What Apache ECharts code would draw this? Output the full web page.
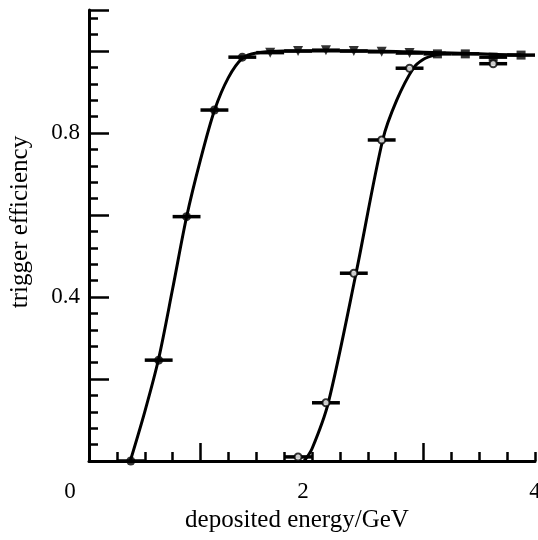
<!DOCTYPE html>
<html><head><meta charset="utf-8">
<script src="https://cdn.jsdelivr.net/npm/echarts@6/dist/echarts.min.js"></script>
<style>html,body{margin:0;padding:0;background:#fff}#c{width:538px;height:540px}</style>
</head><body><div id="c"></div>
<script>
// ---- data ----
const leftX = [0.375,0.625,0.875,1.125,1.375,1.625,1.875,2.125,2.375,2.625,2.875,3.125,3.375,3.625,3.875];
const leftY = [0.0,0.246,0.596,0.856,0.985,0.996,1.0,1.002,1.0,0.998,0.995,0.993,0.993,0.985,0.99];
const rightX = [1.875,2.125,2.375,2.625,2.875,3.625];
const rightY = [0.01,0.142,0.458,0.783,0.958,0.969];
const binHalfWidth = 0.125;
const leftCurveX = [0.37,0.5,0.625,0.75,0.875,1.0,1.125,1.25,1.375,1.5,1.75,2.0,2.5,3.0,3.5,3.875];
const leftCurveY = [0.0,0.12,0.25,0.42,0.595,0.735,0.855,0.935,0.982,0.995,1.0,1.0,1.0,0.997,0.993,0.99];
const rightCurveX = [1.93,2.0,2.146,2.395,2.634,2.76,2.909,3.0,3.1,3.2];
const rightCurveY = [0.0,0.03,0.142,0.458,0.783,0.88,0.958,0.98,0.99,0.995];
const xLabelValues = [0,2,4];
const xLongTicks = [1,3];
const yLabelValues = [0.4,0.8];

const zip = (a,b) => a.map((v,i)=>[v,b[i]]);
const FONT = 'Liberation Serif';
const pts = zip(leftX,leftY);

function errBar(params, api){
  const x = api.value(0), y = api.value(1);
  const p1 = api.coord([x-binHalfWidth,y]), p2 = api.coord([x+binHalfWidth,y]);
  return {type:'line', shape:{x1:p1[0],y1:p1[1],x2:p2[0],y2:p2[1]}, style:{stroke:'#000',lineWidth:3.5}};
}

const chart = echarts.init(document.getElementById('c'), null, {renderer:'canvas'});
chart.setOption({
  animation:false,
  backgroundColor:'#fff',
  grid:{left:89,right:3,top:10,bottom:79,containLabel:false,outerBoundsMode:'none'},
  xAxis:[{
    type:'value',min:0,max:4,interval:2,position:'bottom',
    axisLine:{show:true,lineStyle:{color:'#000',width:3}},
    axisTick:{show:true,inside:true,length:18,customValues:xLongTicks,lineStyle:{color:'#000',width:2.5}},
    axisLabel:{show:true,margin:19,customValues:xLabelValues,color:'#000',fontFamily:FONT,fontSize:23,
      formatter:function(v){ if(v===0) return '{a|0}'; if(v===2) return '{b|2}'; return String(v);},
      rich:{a:{fontFamily:FONT,fontSize:23,color:'#000',padding:[0,38,0,0]},b:{fontFamily:FONT,fontSize:23,color:'#000',padding:[0,18,0,0]}}},
    splitLine:{show:false}
  },{
    type:'value',min:0,max:4,interval:0.25,position:'bottom',
    axisLine:{show:false},
    axisTick:{show:true,inside:true,length:9,lineStyle:{color:'#000',width:2.5}},
    axisLabel:{show:false},splitLine:{show:false}
  }],
  yAxis:[{
    type:'value',min:0,max:1.1,interval:0.2,position:'left',
    axisLine:{show:true,lineStyle:{color:'#000',width:3}},
    axisTick:{show:true,inside:true,length:20,lineStyle:{color:'#000',width:2.5}},
    axisLabel:{show:true,margin:9,customValues:yLabelValues,color:'#000',fontFamily:FONT,fontSize:23,
      formatter:function(v){return v.toFixed(1);}},
    splitLine:{show:false}
  },{
    type:'value',min:0,max:1.1,interval:0.04,position:'left',
    axisLine:{show:false},
    axisTick:{show:true,inside:true,length:9,lineStyle:{color:'#000',width:2.5}},
    axisLabel:{show:false},splitLine:{show:false}
  }],
  graphic:[
    {type:'text',x:297,y:520,style:{text:'deposited energy/GeV',font:'25px "Liberation Serif"',fill:'#000',align:'center',verticalAlign:'middle'}},
    {type:'text',x:20,y:222,rotation:Math.PI/2,style:{text:'trigger efficiency',font:'25px "Liberation Serif"',fill:'#000',align:'center',verticalAlign:'middle'}}
  ],
  series:[
    {type:'line',data:zip(leftCurveX,leftCurveY),smooth:0.3,symbol:'none',lineStyle:{color:'#000',width:3},z:2},
    {type:'line',data:zip(rightCurveX,rightCurveY),smooth:0.3,symbol:'none',lineStyle:{color:'#000',width:3},z:2},
    {type:'custom',data:pts,renderItem:errBar,z:3},
    {type:'custom',data:zip(rightX,rightY),renderItem:errBar,z:3},
    {type:'scatter',data:pts.slice(0,5),symbol:'circle',symbolSize:9,itemStyle:{color:'#000'},z:4},
    {type:'scatter',data:pts.slice(5,11),symbol:'triangle',symbolRotate:180,symbolSize:10,itemStyle:{color:'#000'},z:4},
    {type:'scatter',data:pts.slice(11),symbol:'rect',symbolSize:9,itemStyle:{color:'#000'},z:4},
    {type:'scatter',data:zip(rightX,rightY),symbol:'circle',symbolSize:7,itemStyle:{color:'#fff',borderColor:'#000',borderWidth:2},z:5}
  ]
});
</script></body></html>
